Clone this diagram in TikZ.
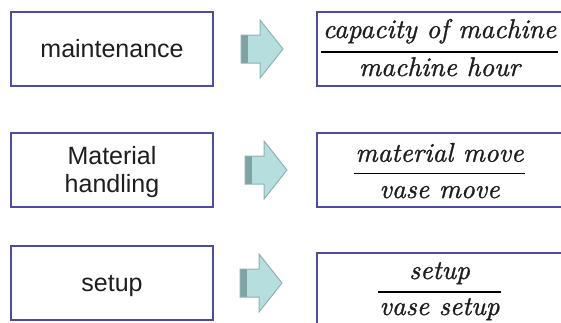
\documentclass[tikz,border=0pt]{standalone}
\usepackage{fontspec}
\setmainfont{Liberation Sans}
\newfontfamily\fracfont{lmroman10-italic.otf}[FakeBold=1.1]
\definecolor{boxblue}{HTML}{4C4CA8}
\definecolor{txtgray}{HTML}{1E1E1E}
\definecolor{arrowfill}{HTML}{B6DEDF}
\definecolor{arrowline}{HTML}{8DB3B4}
\definecolor{arrowband}{HTML}{7FA3A3}
\tikzset{
  leftbox/.style={draw=boxblue, line width=2pt, fill=white, inner sep=0pt,
    minimum width=202pt, minimum height=74pt},
  ratiobox/.style={draw=boxblue, line width=2pt, fill=white, inner sep=0pt,
    minimum width=247pt, minimum height=74pt},
  lbl/.style={font=\fontsize{25}{28}\selectfont, text=txtgray, inner sep=0pt, anchor=base},
  fracpart/.style={font=\fontsize{27}{30}\selectfont\fracfont, text=txtgray, inner sep=0pt, anchor=base},
  fracrule/.style={line width=1.6pt, draw=black},
  blockarrow/.style={fill=arrowfill, draw=arrowline, line width=1pt, line join=miter},
  arrowband/.style={fill=arrowband}
}
% outline and dark tail band of a block arrow whose tail centre is #1
\newcommand{\blockarr}[1]{%
  \fill[arrowband] ([yshift=-14pt]#1) rectangle ([shift={(7pt,14pt)}]#1);
  \path[blockarrow, fill=none] ([yshift=-14pt]#1) -- ([shift={(19pt,-14pt)}]#1)
    -- ([shift={(19pt,-29pt)}]#1) -- ([xshift=42pt]#1) -- ([shift={(19pt,29pt)}]#1)
    -- ([shift={(19pt,14pt)}]#1) -- ([yshift=14pt]#1) -- cycle;
}
% light fill of the same arrow
\newcommand{\blockarrfill}[1]{%
  \path[blockarrow, draw=none] ([yshift=-14pt]#1) -- ([shift={(19pt,-14pt)}]#1)
    -- ([shift={(19pt,-29pt)}]#1) -- ([xshift=42pt]#1) -- ([shift={(19pt,29pt)}]#1)
    -- ([shift={(19pt,14pt)}]#1) -- ([yshift=14pt]#1) -- cycle;
}
\begin{document}
\begin{tikzpicture}[x=1pt, y=-1pt]
\useasboundingbox (0,0) rectangle (561,322);
\clip (0,0) rectangle (561,322);
\fill[white] (0,0) rectangle (561,322);

% activity boxes
\node[leftbox] (act1) at (112,49) {};
\node[leftbox] (act2) at (112,170) {};
\node[leftbox] (act3) at (112,283) {};
\node[lbl] (act1t) at (112,57.5) {maintenance};
\node[lbl] (act2a) at (112,164) {Material};
\node[lbl] (act2b) at (112,192) {handling};
\node[lbl] (act3t) at (112,291) {setup};

% cost driver boxes
\node[ratiobox] (drv1) at (440.5,49) {};
\node[ratiobox] (drv2) at (440.5,170) {};
\node[ratiobox] (drv3) at (440.5,290) {};

% fractions
\node[fracpart] (num1) at (439.5,38) {capacity of machine};
\node[fracpart] (den1) at (439.5,76) {machine hour};
\draw[fracrule] ([shift={(-1.5pt,-14pt)}]num1.base west) -- ([shift={(1.5pt,-14pt)}]num1.base east);

\node[fracpart] (num2) at (439.5,161.7) {material move};
\node[fracpart] (den2) at (439.5,198) {vase move};
\draw[fracrule] ([shift={(-1.5pt,-11.6pt)}]num2.base west) -- ([shift={(1.5pt,-11.6pt)}]num2.base east);

\node[fracpart] (num3) at (439.5,279) {setup};
\node[fracpart] (den3) at (439.5,315) {vase setup};
\draw[fracrule] ([shift={(-1.5pt,23.3pt)}]den3.base west) -- ([shift={(1.5pt,23.3pt)}]den3.base east);

% block arrows between the boxes
\coordinate (arr1) at (241,49);
\coordinate (arr2) at (245,170);
\coordinate (arr3) at (240,283);
\blockarrfill{arr1}\blockarr{arr1}
\blockarrfill{arr2}\blockarr{arr2}
\blockarrfill{arr3}\blockarr{arr3}
\end{tikzpicture}
\end{document}
